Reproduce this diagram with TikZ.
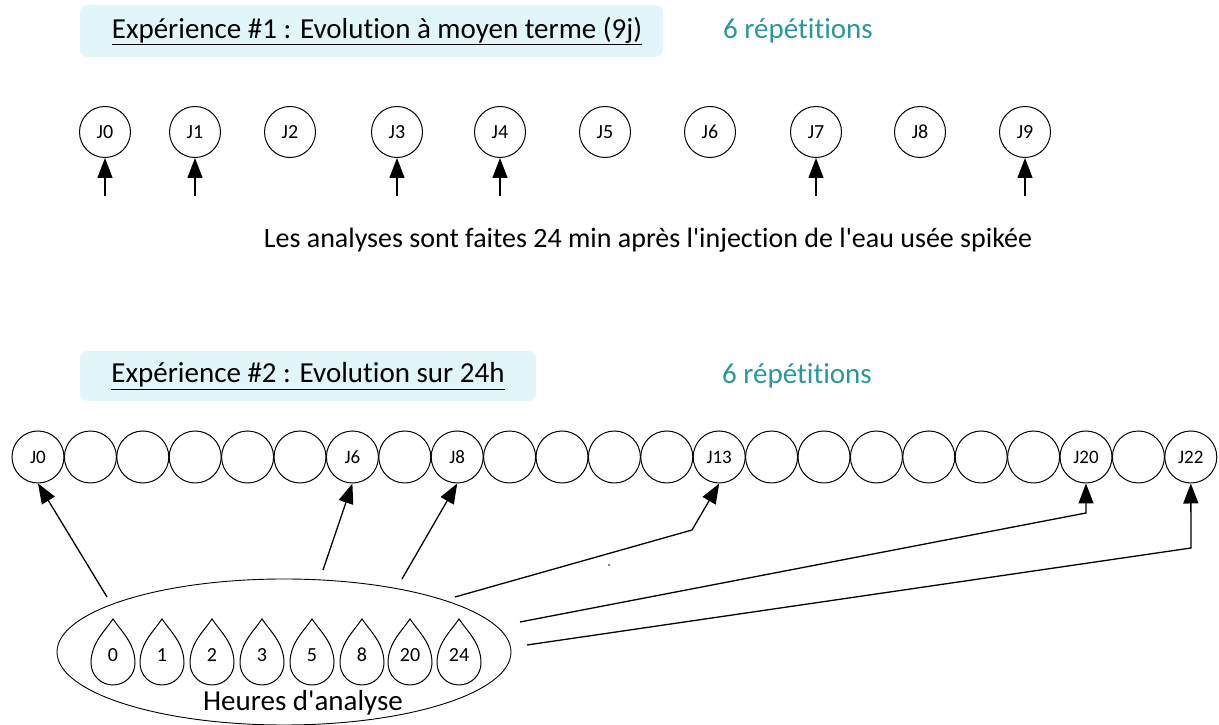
\documentclass[tikz,border=0pt]{standalone}
\usepackage{fontspec}
\setmainfont{Carlito}[Ligatures={CommonOff,TeXOff}]
\usetikzlibrary{arrows.meta}
\definecolor{boxfill}{RGB}{224,246,248}
\definecolor{tealtxt}{RGB}{40,152,152}
\begin{document}
\begin{tikzpicture}[x=1pt,y=1pt,
  dayA/.style={draw,circle,minimum size=51pt,inner sep=0pt,line width=1pt,font=\fontsize{20}{24}\selectfont},
  dayB/.style={draw,circle,minimum size=52pt,inner sep=0pt,line width=1pt,font=\fontsize{19}{23}\selectfont},
  arr/.style={line width=1.3pt,-{Triangle[length=20pt,width=15pt]}},
  titlebox/.style={fill=boxfill,rounded corners=8pt,inner sep=0pt},
  titletxt/.style={font=\fontsize{29}{34}\selectfont,inner sep=0pt},
  reptxt/.style={font=\fontsize{29}{34}\selectfont,text=tealtxt,inner sep=0pt},
]
\useasboundingbox (0,0) rectangle (1219,725);
% ---------- Experience 1 ----------
\node[titlebox,minimum width=583pt,minimum height=52pt] (t1box) at (371.5,694) {};
\node[titletxt] (t1) at (377,694) {\underline{Expérience \#1 : Evolution à moyen terme (9j)}};
\node[reptxt] (r1) at (798,694) {6 répétitions};
\foreach \n/\x in {0/105,1/195,2/290,3/397,4/500,5/605,6/710,7/816,8/920,9/1025}{
  \node[dayA] (A\n) at (\x,593) {J\n};
}
\foreach \n in {0,1,3,4,7,9}{
  \coordinate (a\n) at ([yshift=-38pt]A\n.south);
  \draw[arr] (a\n) -- (A\n.south);
}
\node[font=\fontsize{28}{33}\selectfont,inner sep=0pt] (note) at (648,485) {Les analyses sont faites 24 min après l'injection de l'eau usée spikée};
% ---------- Experience 2 ----------
\node[titlebox,minimum width=456pt,minimum height=50pt] (t2box) at (308,349) {};
\node[titletxt] (t2) at (308,349) {\underline{Expérience \#2 : Evolution sur 24h}};
\node[reptxt] (r2) at (797,349) {6 répétitions};
\foreach \i in {0,...,22}{
  \pgfmathsetmacro{\cx}{38+52.4*\i}
  \node[dayB] (B\i) at (\cx,268) {};
}
\foreach \i in {0,6,8,13,20,22}{
  \node[font=\fontsize{19}{23}\selectfont] at (B\i) {J\i};
}
% ellipse with drops
\draw[line width=0.9pt] (284,73) ellipse [x radius=227,y radius=73];
\foreach \x/\l [count=\k] in {113/0,162/1,212/2,262/3,312/5,362/8,410/20,459/24}{
  \draw[line width=1pt] (\x,106) .. controls (\x-8,94) and (\x-22,82) .. (\x-22,62)
     arc[start angle=180,end angle=360,radius=22]
     .. controls (\x+22,82) and (\x+8,94) .. (\x,106) -- cycle;
  \node[font=\fontsize{20}{24}\selectfont,inner sep=0pt] (d\k) at (\x,70) {\l};
}
\node[font=\fontsize{29}{34}\selectfont,inner sep=0pt] (heures) at (303,22) {Heures d'analyse};
% connectors
\coordinate (s0) at (107,128);
\coordinate (s6) at (323,155);
\coordinate (s8) at (402,146);
\coordinate (s13) at (455,128);
\coordinate (b13) at (692,195);
\coordinate (s20) at (520,103);
\coordinate (b20) at (1086,212);
\coordinate (s22) at (527,80);
\coordinate (b22) at (1191,177);
\draw[arr] (s0) -- (B0.south);
\draw[arr] (s6) -- (B6.south);
\draw[arr] (s8) -- (B8.south);
\draw[arr] (s13) -- (b13) -- (B13.south);
\draw[arr] (s20) -- (b20) -- (B20.south);
\draw[arr] (s22) -- (b22) -- (B22.south);
\fill (609,160) circle (0.8);
\end{tikzpicture}
\end{document}
